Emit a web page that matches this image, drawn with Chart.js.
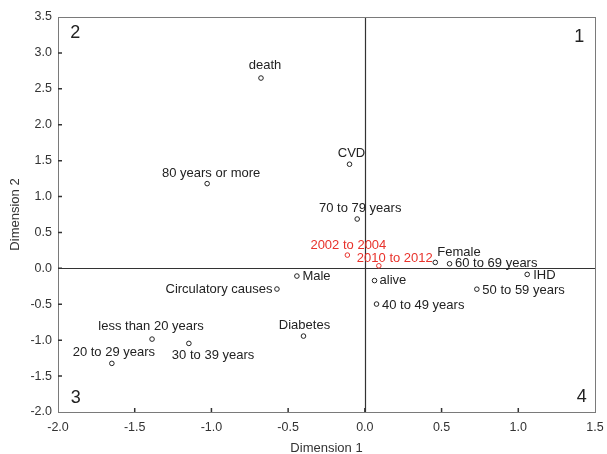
<!DOCTYPE html>
<html>
<head>
<meta charset="utf-8">
<script src="https://cdn.jsdelivr.net/npm/chart.js@4/dist/chart.umd.min.js"></script>
<style>
  html, body { margin: 0; padding: 0; background: #ffffff; }
  #wrap { width: 607px; height: 454px; position: relative; }
</style>
</head>
<body>
<div id="wrap"><canvas id="c" width="607" height="454"></canvas></div>
<script>
// ---- data ----
const categories = [
  'death', '80 years or more', 'CVD', '70 to 79 years', 'Female', '60 to 69 years',
  'IHD', '50 to 59 years', 'alive', '40 to 49 years', 'Male', 'Circulatory causes',
  'Diabetes', 'less than 20 years', '20 to 29 years', '30 to 39 years'
];
const dim1 = [-0.677, -1.028, -0.10, -0.05, 0.459, 0.552, 1.058, 0.73, 0.063, 0.076, -0.443, -0.573, -0.40, -1.387, -1.649, -1.147];
const dim2 = [2.65, 1.18, 1.45, 0.687, 0.083, 0.064, -0.084, -0.29, -0.17, -0.497, -0.107, -0.288, -0.943, -0.985, -1.323, -1.045];

const periodCategories = ['2002 to 2004', '2010 to 2012'];
const periodDim1 = [-0.114, 0.091];
const periodDim2 = [0.185, 0.036];

const xTickValues = [-2.0, -1.5, -1.0, -0.5, 0.0, 0.5, 1.0, 1.5];
const yTickValues = [-2.0, -1.5, -1.0, -0.5, 0.0, 0.5, 1.0, 1.5, 2.0, 2.5, 3.0, 3.5];
const quadrantNames = ['1', '2', '3', '4'];

// ---- label placement (style, kept apart from data) ----
const labelPlacement = {
  'death': ['center', 4, -13],
  '80 years or more': ['center', 4, -10],
  'CVD': ['center', 2, -11],
  '70 to 79 years': ['center', 3, -11],
  '2002 to 2004': ['center', 1, -10],
  '2010 to 2012': ['center', 16, -7],
  'Female': ['left', 2, -10],
  '60 to 69 years': ['left', 5.5, 0],
  'IHD': ['left', 6, 1],
  '50 to 59 years': ['left', 5.5, 1],
  'alive': ['left', 5, -0.5],
  '40 to 49 years': ['left', 5.5, 1],
  'Male': ['left', 5.5, 0.5],
  'Circulatory causes': ['right', -4.5, 0],
  'Diabetes': ['center', 1, -11],
  'less than 20 years': ['center', -1, -12.5],
  '20 to 29 years': ['center', 2, -11],
  '30 to 39 years': ['left', -17, 12]
};

const FONT = '"Liberation Sans", Arial, Helvetica, sans-serif';
const BLACK = '#222222';
const RED = '#e8322b';

const mainPoints = categories.map((n, i) => ({ x: dim1[i], y: dim2[i], name: n }));
const periodPoints = periodCategories.map((n, i) => ({ x: periodDim1[i], y: periodDim2[i], name: n }));

const framePlugin = {
  id: 'frame',
  beforeDatasetsDraw(chart) {
    const { ctx, chartArea: a, scales } = chart;
    const xs = scales.x, ys = scales.y;
    ctx.save();
    // zero lines
    ctx.strokeStyle = '#333333';
    ctx.lineWidth = 1.2;
    const x0 = Math.round(xs.getPixelForValue(0)) + 0.5;
    const y0 = Math.round(ys.getPixelForValue(0)) + 0.5;
    ctx.beginPath();
    ctx.moveTo(x0, a.top); ctx.lineTo(x0, a.bottom);
    ctx.moveTo(a.left, y0); ctx.lineTo(a.right, y0);
    ctx.stroke();
    // frame
    ctx.strokeStyle = '#7a7a7a';
    ctx.lineWidth = 1;
    ctx.strokeRect(Math.round(a.left) + 0.5, Math.round(a.top) + 0.5,
                   Math.round(a.right - a.left), Math.round(a.bottom - a.top));
    // inward ticks
    ctx.strokeStyle = '#333333';
    ctx.lineWidth = 1.5;
    ctx.beginPath();
    xs.ticks.forEach((t, i) => {
      if (t.value <= xs.min || t.value >= xs.max) return;
      const px = xs.getPixelForTick(i);
      ctx.moveTo(px, a.bottom); ctx.lineTo(px, a.bottom - 4);
    });
    ys.ticks.forEach((t, i) => {
      if (t.value <= ys.min || t.value >= ys.max) return;
      const py = ys.getPixelForTick(i);
      ctx.moveTo(a.left, py); ctx.lineTo(a.left + 4, py);
    });
    ctx.stroke();
    // quadrant numbers
    ctx.fillStyle = BLACK;
    ctx.font = '18px ' + FONT;
    ctx.textAlign = 'center';
    ctx.textBaseline = 'middle';
    ctx.fillText(quadrantNames[0], a.right - 15.7, a.top + 19.7);
    ctx.fillText(quadrantNames[1], a.left + 17.3, a.top + 15.8);
    ctx.fillText(quadrantNames[2], a.left + 17.7, a.bottom - 14.4);
    ctx.fillText(quadrantNames[3], a.right - 13.3, a.bottom - 15);
    ctx.restore();
  }
};

const labelPlugin = {
  id: 'pointLabels',
  afterDatasetsDraw(chart) {
    const { ctx } = chart;
    ctx.save();
    ctx.font = '13px ' + FONT;
    ctx.textBaseline = 'middle';
    chart.data.datasets.forEach((ds, di) => {
      const meta = chart.getDatasetMeta(di);
      ctx.fillStyle = ds.labelColor;
      meta.data.forEach((el, i) => {
        const name = ds.data[i].name;
        const p = labelPlacement[name] || ['left', 5, 0];
        ctx.textAlign = p[0];
        ctx.fillText(name, el.x + p[1], el.y + p[2]);
      });
    });
    ctx.restore();
  }
};

new Chart(document.getElementById('c'), {
  type: 'scatter',
  data: {
    datasets: [
      {
        label: 'categories',
        data: mainPoints,
        pointStyle: 'circle',
        pointRadius: 2.3,
        pointHoverRadius: 2.3,
        borderWidth: 1,
        borderColor: BLACK,
        backgroundColor: 'rgba(255,255,255,0)',
        labelColor: BLACK
      },
      {
        label: 'periods',
        data: periodPoints,
        pointStyle: 'circle',
        pointRadius: 2.3,
        pointHoverRadius: 2.3,
        borderWidth: 1,
        borderColor: RED,
        backgroundColor: 'rgba(255,255,255,0)',
        labelColor: RED
      }
    ]
  },
  options: {
    responsive: false,
    animation: false,
    events: [],
    layout: { padding: { top: 17, right: 12, left: 0, bottom: 0 } },
    plugins: {
      legend: { display: false },
      tooltip: { enabled: false }
    },
    scales: {
      x: {
        type: 'linear',
        min: -2, max: 1.5,
        afterBuildTicks(scale) { scale.ticks = xTickValues.map(v => ({ value: v })); },
        afterFit(scale) { scale.height = 42; scale.paddingLeft = 0; scale.paddingRight = 0; },
        grid: { display: false, drawTicks: false },
        border: { display: false },
        ticks: {
          padding: 8,
          color: '#333333',
          font: { family: FONT, size: 12.5 },
          maxRotation: 0,
          autoSkip: false,
          callback: v => Number(v).toFixed(1)
        },
        title: {
          display: true,
          text: 'Dimension 1',
          color: '#333333',
          font: { family: FONT, size: 13 },
          padding: { top: 0, bottom: -2 }
        }
      },
      y: {
        type: 'linear',
        min: -2, max: 3.5,
        afterBuildTicks(scale) { scale.ticks = yTickValues.map(v => ({ value: v })); },
        afterFit(scale) { scale.width = 58; scale.paddingTop = 0; scale.paddingBottom = 0; },
        grid: { display: false, drawTicks: false },
        border: { display: false },
        ticks: {
          padding: 6,
          color: '#333333',
          font: { family: FONT, size: 12.5 },
          autoSkip: false,
          callback: v => Number(v).toFixed(1)
        },
        title: {
          display: true,
          text: 'Dimension 2',
          color: '#333333',
          font: { family: FONT, size: 13 },
          padding: { top: 8, bottom: 0 }
        }
      }
    }
  },
  plugins: [framePlugin, labelPlugin]
});
</script>
</body>
</html>
